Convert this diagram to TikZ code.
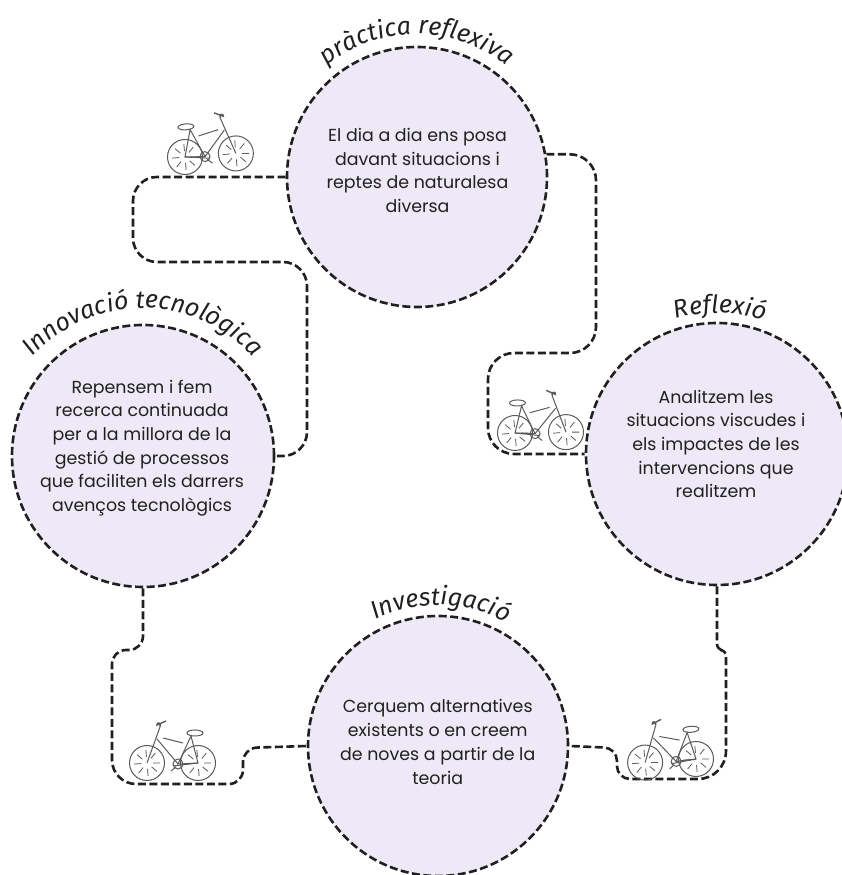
\documentclass[tikz,border=0pt]{standalone}
\usepackage{fontspec}
\setmainfont{Poppins}
\newfontfamily\titolfont{Fira Sans Italic}
\usetikzlibrary{decorations.text}
\definecolor{lila}{RGB}{238,233,246}
\definecolor{tinta}{RGB}{32,32,32}
\definecolor{bicigris}{RGB}{90,90,90}
\tikzset{
  cercle/.style={circle, draw=tinta, fill=lila, line width=2.6pt, dash pattern=on 8pt off 3.5pt,
    minimum size=#1, inner sep=0pt},
  textcercle/.style={text=tinta, align=center, inner sep=0pt, font=\fontsize{17.4}{23.7}\selectfont},
  cami/.style={draw=tinta, line width=2.6pt, dash pattern=on 8pt off 3.5pt},
  titol/.style={decorate, decoration={text along path, text align=fit to path,
    text={|\titolfont\fontsize{25}{27}\selectfont\color{tinta}|#1}}},
  roda/.pic={
    \draw[bicigris, line width=1pt] (0,0) circle (17.5);
    \draw[bicigris, line width=0.8pt] (0:6)--(0:13) (50:6)--(50:13) (95:6)--(95:13) (140:6)--(140:13)
      (185:6)--(185:13) (230:6)--(230:13) (275:6)--(275:13) (320:6)--(320:13);
  },
  bici/.pic={
    \pic at (0,0) {roda};
    \pic at (51,0) {roda};
    \draw[bicigris, line width=1pt] (0,0)--(20,-1)--(7,27)--cycle;
    \draw[bicigris, line width=1pt] (20,-1)--(41,24) (51,0)--(38,36);
    \draw[bicigris, line width=1pt] (15,20)--(35,25);
    \draw[bicigris, line width=1.4pt] (38,36) .. controls (36,41) and (42,41) .. (41,38) -- (32,42);
    \draw[bicigris, line width=1pt] (3,30) ellipse (8 and 3);
    \draw[bicigris, line width=1pt] (20,-1) circle (5);
    \draw[bicigris, line width=1pt] (0,0)--(25,-3) (22,-4)--(27,-8);
  }
}
\begin{document}
\begin{tikzpicture}[x=1pt,y=1pt]
\useasboundingbox (0,0) rectangle (841,875);

\node[cercle=260pt] (practica) at (417,698) {};
\node[cercle=262pt] (reflexio) at (717,421) {};
\node[cercle=260pt] (investigacio) at (438,129) {};
\node[cercle=262pt] (innovacio) at (143,419) {};

\node[textcercle] (practicatext) at (417.5,704.5) {El dia a dia ens posa\\davant situacions i\\reptes de naturalesa\\diversa};
\node[textcercle] (reflexiotext) at (716,431) {Analitzem les\\situacions viscudes i\\els impactes de les\\intervencions que\\realitzem};
\node[textcercle] (investigaciotext) at (437.7,133) {Cerquem alternatives\\existents o en creem\\de noves a partir de la\\teoria};
\node[textcercle] (innovaciotext) at (142,427) {Repensem i fem\\recerca continuada\\per a la millora de la\\gestió de processos\\que faciliten els darrers\\avenços tecnològics};

\path[titol={pràctica reflexiva}] (practica.center) ++(129:143) arc (129:51:143);
\path[titol={Reflexió}] (reflexio.center) ++(107:141) arc (107:73:141);
\path[titol={Investigació}] (investigacio.center) ++(116.5:141) arc (116.5:62.5:141);
\path[titol={Innovació tecnològica}] (innovacio.center) ++(138:148) arc (138:42:148);

\draw[cami, rounded corners=24pt] (practica.west) -- (133,698) -- (133,613) -- (307,613) -- (307,419) -- (innovacio.east);
\draw[cami, rounded corners=26pt] (practica.10) -- (596,720.6) -- (596,522) -- (488,522) -- (488,421) -- (reflexio.west);
\draw[cami, rounded corners=6pt] (reflexio.south) -- (717,225) -- (726,225) [rounded corners=28pt] -- (726,96) [rounded corners=13pt] -- (617,96) -- (617,127) -- (investigacio.east);
\draw[cami, rounded corners=14pt] (innovacio.south) -- (143,225) -- (112,225) [rounded corners=24pt] -- (112,91) [rounded corners=14pt] -- (243,91) -- (243,127) -- (investigacio.west);

\pic[rotate=4] at (185,718) {bici};
\pic[rotate=1] at (515,442) {bici};
\pic[xscale=-1] at (198,112) {bici};
\pic[xscale=-1,rotate=-4] at (696,116) {bici};

\end{tikzpicture}
\end{document}
